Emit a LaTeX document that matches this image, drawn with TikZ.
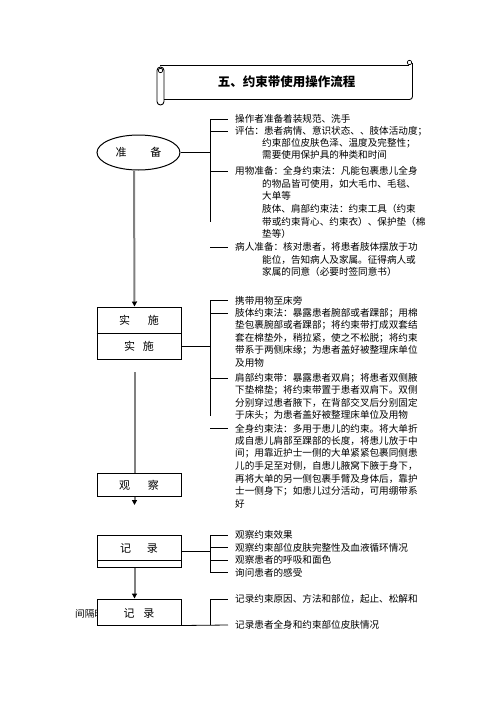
\documentclass[tikz,border=0pt]{standalone}
\usepackage{fontspec}
\setmainfont{Noto Sans CJK SC}
\usetikzlibrary{arrows.meta, shapes.geometric}

\tikzset{
	line/.style={draw, line width=0.8pt},
	box/.style={draw, line width=1pt, fill=white, minimum width=84pt, inner sep=0pt},
	lab/.style={inner sep=0pt, font=\fontsize{11}{13}\selectfont},
	txt/.style={anchor=west, inner sep=0pt, font=\fontsize{9.6}{12}\selectfont},
	flow/.style={draw=gray, line width=2pt, -{Triangle[black, width=5pt, length=5pt]}},
	grayline/.style={draw=gray, line width=2pt}
}

\begin{document}
\begin{tikzpicture}[x=1pt, y=-1pt]
	\useasboundingbox (0,0) rectangle (496,702);
	\draw[line width=0.9pt] (160,65.5) -- (409,65.5);
	\draw[line width=0.9pt, rounded corners=3pt] (164,99.5) -- (412.5,99.5) -- (412.5,63);
	\draw[line width=0.9pt, rounded corners=3.5pt] (157,67) rectangle (164,105);
	\draw[line width=0.7pt] (160.5,70.5) circle (2.2pt);
	\draw[line width=0.7pt] (409.5,62.5) circle (2.2pt);
	\node[inner sep=0pt, font=\fontsize{12.5}{14}\selectfont\bfseries] (title) at (286.5,82) {五、约束带使用操作流程};

	\node[ellipse, draw, line width=1pt, minimum width=83pt, minimum height=35pt, inner sep=0pt, font=\fontsize{11}{13}\selectfont] (zb) at (138.5,152.5) {准\hspace{24pt}备};
	\coordinate (ka) at (210,0);
	\foreach \n/\x/\y/\t in {
		a1/235/119/操作者准备着装规范、洗手,
		a2/235/131/评估：患者病情、意识状态、、肢体活动度；,
		a3/262/143/约束部位皮肤色泽、温度及完整性；,
		a4/262/155/需要使用保护具的种类和时间,
		a5/235/171/用物准备：全身约束法：凡能包裹患儿全身,
		a6/262/183.5/的物品皆可使用，如大毛巾、毛毯、,
		a7/262/196/大单等,
		a8/262/209/肢体、肩部约束法：约束工具（约束,
		a9/262/222/带或约束背心、约束衣）、保护垫（棉,
		a10/262/234/垫等）,
		a11/235/247/病人准备：核对患者，将患者肢体摆放于功,
		a12/262/260/能位，告知病人及家属。征得病人或,
		a13/262/272/家属的同意（必要时签同意书）}
		\node[txt] (\n) at (\x,\y) {\t};
	\draw[line] (zb.east) -- (zb.east -| ka);
	\draw[line] (a1.west -| ka) -- (a9.west -| ka);
	\foreach \n in {a1,a2,a5,a11}
		\draw[line] (\n.west -| ka) -- ([xshift=-7pt]\n.west);

	\node[box, minimum height=52pt] (ss) at (139,333) {};
	\draw[line width=1pt] (ss.west) -- (ss.east);
	\node[lab] (ss1) at (139,320) {实\hspace{18pt}施};
	\node[lab] (ss2) at (139,346) {实\hspace{8pt}施};
	\foreach \n/\y/\t in {
		b1/300.5/携带用物至床旁,
		b2/313/肢体约束法：暴露患者腕部或者踝部；用棉,
		b3/325.5/垫包裹腕部或者踝部；将约束带打成双套结,
		b4/338/套在棉垫外，稍拉紧，使之不松脱；将约束,
		b5/350.5/带系于两侧床缘；为患者盖好被整理床单位,
		b6/363/及用物,
		b7/378/肩部约束带：暴露患者双肩；将患者双侧腋,
		b8/390.5/下垫棉垫；将约束带置于患者双肩下。双侧,
		b9/403/分别穿过患者腋下，在背部交叉后分别固定,
		b10/415.5/于床头；为患者盖好被整理床单位及用物,
		b11/428.5/全身约束法：多用于患儿的约束。将大单折,
		b12/441/成自患儿肩部至踝部的长度，将患儿放于中,
		b13/453.5/间；用靠近护士一侧的大单紧紧包裹同侧患,
		b14/466/儿的手足至对侧，自患儿腋窝下腋于身下，,
		b15/478.5/再将大单的另一侧包裹手臂及身体后，靠护,
		b16/491/士一侧身下；如患儿过分活动，可用绷带系,
		b17/503.5/好}
		\node[txt] (\n) at (235,\y) {\t};
	\draw[line] (ss.east |- ss2) -- (ss2 -| ka);
	\draw[line] (b1.west -| ka) -- (b10.west -| ka);
	\foreach \n in {b1,b2,b7,b11}
		\draw[line] (\n.west -| ka) -- ([xshift=-7pt]\n.west);
	\draw[flow] ([xshift=-4.5pt]zb.south) -- ([xshift=-4.5pt]ss.north);

	\node[box, minimum height=23pt] (gc) at (139,485) {};
	\node[lab] (gct) at (139,485) {观\hspace{18pt}察};
	\coordinate (gap) at (134.5,372);
	\draw[grayline] (gap) -- (gap |- gc.north);
	\draw[flow] ([xshift=-4.5pt]gc.south) -- ++(0,8);

	\node[box, minimum height=32pt] (jl) at (139,551) {};
	\draw[line width=1pt] ([yshift=7pt]jl.south west) -- ([yshift=7pt]jl.south east);
	\node[lab] (jlt) at (139,548) {记\hspace{16pt}录};
	\foreach \n/\y/\t in {
		c1/535/观察约束效果,
		c2/547.5/观察约束部位皮肤完整性及血液循环情况,
		c3/560/观察患者的呼吸和面色,
		c4/572.5/询问患者的感受}
		\node[txt] (\n) at (235,\y) {\t};
	\draw[line] (jl.east) -- (jl.east -| ka);
	\draw[line] (c1.west -| ka) -- (c4.west -| ka);
	\foreach \n in {c1,c2,c3,c4}
		\draw[line] (\n.west -| ka) -- ([xshift=-7pt]\n.west);

	\node[txt] (jg) at (75,614) {间隔时};
	\node[box, minimum height=26pt] (jl2) at (139,612) {};
	\node[lab] (jl2t) at (139,613) {记\hspace{9pt}录};
	\draw[flow] ([xshift=-4.5pt]jl.south) -- ([xshift=-4.5pt]jl2.north);
	\node[txt] (d1) at (235,599) {记录约束原因、方法和部位，起止、松解和};
	\node[txt] (d2) at (235,625) {记录患者全身和约束部位皮肤情况};
	\draw[line] (jl2.south east) -- ([xshift=-7pt]d2.west);
	\draw[line] (d1.west -| ka) -- (d2.west -| ka);
	\draw[line] (d1.west -| ka) -- ([xshift=-7pt]d1.west);
\end{tikzpicture}
\end{document}
